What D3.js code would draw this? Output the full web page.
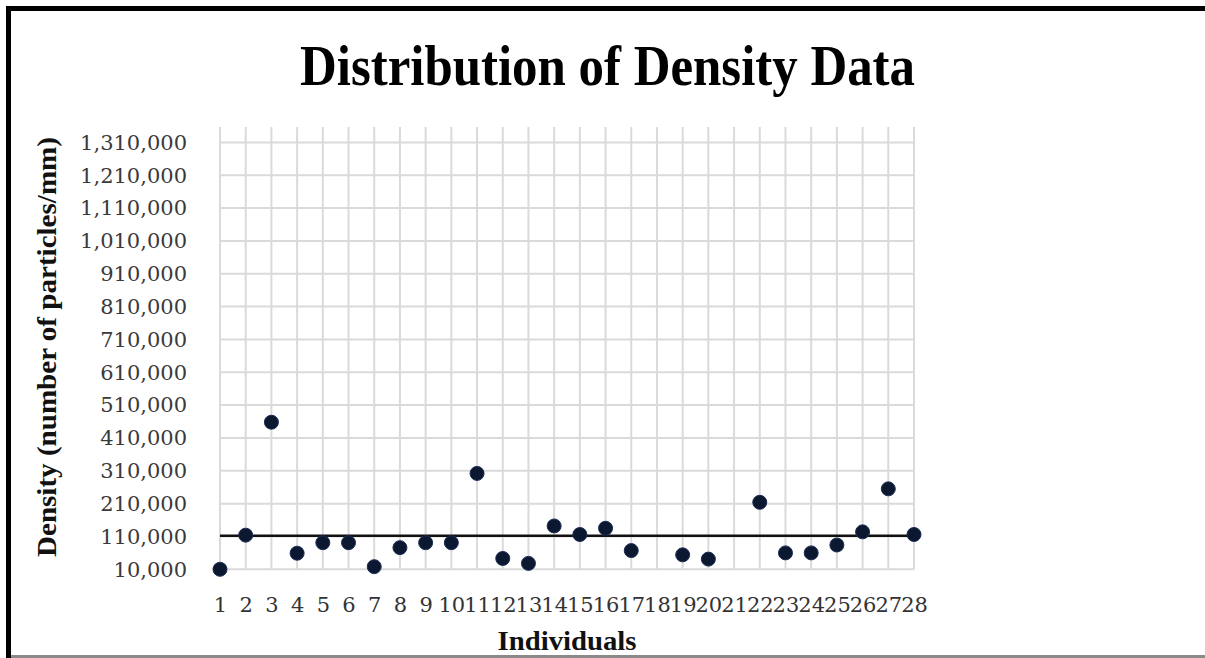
<!DOCTYPE html>
<html>
<head>
<meta charset="utf-8">
<script src="https://cdn.jsdelivr.net/npm/d3@7"></script>
<style>
  html, body { margin: 0; padding: 0; background: #fff; }
  svg { display: block; }
</style>
</head>
<body>
<svg id="chart" width="1205" height="658"></svg>
<script>
// ---- data ----
const individuals = d3.range(1, 29);
const density = [10000, 114000, 458000, 59000, 91000, 91000, 18000, 76000, 91000, 91000,
                 302000, 43000, 28000, 142000, 116000, 135000, 67000, null, 54000, 41000,
                 null, 214000, 60000, 60000, 84000, 124000, 255000, 116000];
const meanValue = 112000;
const yTickValues = d3.range(10000, 1310001, 100000);
const titleText = "Distribution of Density Data";
const xTitleText = "Individuals";
const yTitleText = "Density (number of particles/mm)";

// ---- layout ----
const svg = d3.select("#chart");
const x = d3.scaleLinear().domain([1, 28]).range([220, 914]);
const y = d3.scaleLinear().domain([10000, 1357000]).range([569.3, 127]);

// frame
svg.append("rect").attr("x", 0).attr("y", 0).attr("width", 1205).attr("height", 658).attr("fill", "#fff");
svg.append("rect").attr("x", 6).attr("y", 6).attr("width", 1199).attr("height", 5).attr("fill", "#000");
svg.append("rect").attr("x", 6).attr("y", 6).attr("width", 5).attr("height", 652).attr("fill", "#000");
svg.append("rect").attr("x", 11).attr("y", 655).attr("width", 1194).attr("height", 3).attr("fill", "#8a8a8a");

// gridlines
const grid = svg.append("g");
grid.selectAll("line.v").data(individuals).join("line")
  .attr("x1", d => x(d)).attr("x2", d => x(d))
  .attr("y1", y.range()[1]).attr("y2", y.range()[0])
  .attr("stroke", "#dadada").attr("stroke-width", 2);
grid.selectAll("line.h").data(yTickValues).join("line")
  .attr("x1", x.range()[0]).attr("x2", x.range()[1])
  .attr("y1", d => y(d)).attr("y2", d => y(d))
  .attr("stroke", "#dadada").attr("stroke-width", 2);

// y axis labels
const yAxis = d3.axisLeft(y).tickValues(yTickValues).tickSize(0).tickPadding(0)
  .tickFormat(d3.format(","));
const gy = svg.append("g").attr("transform", "translate(187,0)").call(yAxis);
gy.select(".domain").remove();
gy.selectAll("text").attr("font-family", "DejaVu Serif").attr("font-size", 21).attr("fill", "#3a3a3a");

// x axis labels
const xAxis = d3.axisBottom(x).tickValues(individuals).tickSize(0).tickPadding(0).tickFormat(d3.format("d"));
const gx = svg.append("g").attr("transform", "translate(0,597)").call(xAxis);
gx.select(".domain").remove();
gx.selectAll("text").attr("font-family", "DejaVu Serif").attr("font-size", 21).attr("fill", "#333");

// mean line
svg.append("line")
  .attr("x1", x(1)).attr("x2", x(28))
  .attr("y1", y(meanValue)).attr("y2", y(meanValue))
  .attr("stroke", "#111").attr("stroke-width", 2.5);

// points
svg.append("g").selectAll("circle")
  .data(individuals.map((d, i) => ({ id: d, v: density[i] })).filter(d => d.v != null))
  .join("circle")
  .attr("cx", d => x(d.id)).attr("cy", d => y(d.v)).attr("r", 7)
  .attr("fill", "#0c1830").attr("stroke", "#1b2d55").attr("stroke-width", 1);

// titles
svg.append("text").text(titleText)
  .attr("x", 607.5).attr("y", 85).attr("text-anchor", "middle")
  .attr("font-family", "Liberation Serif").attr("font-weight", "bold").attr("font-size", 56)
  .attr("textLength", 615).attr("lengthAdjust", "spacingAndGlyphs").attr("fill", "#000");

svg.append("text").text(xTitleText)
  .attr("x", 567).attr("y", 650).attr("text-anchor", "middle")
  .attr("font-family", "Liberation Serif").attr("font-weight", "bold").attr("font-size", 27)
  .attr("textLength", 139).attr("lengthAdjust", "spacingAndGlyphs").attr("fill", "#111");

svg.append("text").text(yTitleText)
  .attr("transform", "translate(56,347) rotate(-90)").attr("text-anchor", "middle")
  .attr("font-family", "Liberation Serif").attr("font-weight", "bold").attr("font-size", 27)
  .attr("textLength", 420).attr("lengthAdjust", "spacingAndGlyphs").attr("fill", "#111");
</script>
</body>
</html>
